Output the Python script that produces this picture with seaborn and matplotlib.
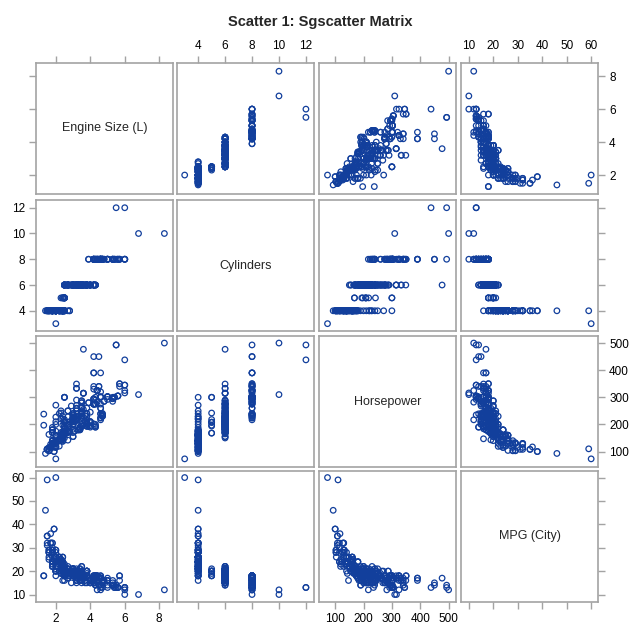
import numpy as np
import pandas as pd
import matplotlib
matplotlib.use("Agg")
import matplotlib.pyplot as plt
import seaborn as sns

sns.set_style("white")
plt.rcParams["font.family"] = ["Liberation Sans", "DejaVu Sans"]

# valores: (motor L, cavalos, mpg cidade) por nº de cilindros
cyl3 = [(2.0, 73, 60)]
rotary = [(1.3, 197, 18), (1.3, 238, 18)]  # sem cilindros
cyl4 = [
    (1.5, 110, 59), (1.4, 93, 46), (1.9, 100, 38), (1.9, 100, 38), (1.7, 115, 32),
    (1.7, 117, 36), (1.7, 127, 32), (1.5, 108, 35), (1.5, 108, 35), (1.5, 108, 32),
    (1.5, 108, 31), (1.8, 130, 32), (1.8, 130, 32), (1.8, 130, 29), (1.8, 130, 29),
    (1.6, 103, 29), (1.6, 103, 29), (1.6, 104, 26), (1.6, 103, 28), (1.6, 103, 28),
    (1.6, 115, 28), (1.6, 163, 25), (1.8, 124, 24), (1.8, 126, 28), (1.8, 126, 28),
    (2.5, 165, 23), (2.0, 138, 26), (2.0, 138, 26), (2.0, 132, 29), (2.0, 132, 29),
    (2.4, 230, 22), (2.0, 130, 26), (2.0, 130, 26), (2.0, 130, 26), (2.3, 170, 21),
    (2.0, 148, 26), (2.3, 160, 25), (2.2, 140, 26), (2.2, 140, 26), (2.2, 140, 24),
    (2.2, 140, 26), (2.2, 140, 26), (2.3, 155, 25), (2.0, 119, 22), (2.0, 120, 25),
    (2.0, 271, 18), (2.0, 227, 20), (2.5, 300, 18), (2.5, 165, 21), (2.5, 165, 21),
    (2.5, 165, 21), (2.5, 165, 21), (2.0, 160, 26), (2.4, 160, 26), (2.4, 160, 26),
    (2.4, 157, 24), (2.4, 157, 24), (2.4, 157, 24), (2.5, 175, 21), (2.4, 150, 22),
    (2.4, 220, 21), (2.4, 150, 22), (2.4, 150, 22), (2.2, 145, 24), (2.4, 138, 23),
    (2.4, 138, 23), (2.0, 115, 24), (2.0, 115, 24), (1.8, 180, 24), (1.8, 170, 22),
    (1.8, 170, 22), (1.8, 180, 24), (1.8, 140, 28), (1.8, 142, 23), (2.2, 240, 20),
    (2.0, 210, 20), (2.0, 175, 20), (2.3, 250, 19), (2.3, 220, 19), (1.8, 180, 24),
    (2.4, 160, 21), (2.4, 160, 21), (2.4, 160, 21), (2.4, 161, 22), (2.0, 130, 22),
    (2.0, 140, 20), (2.5, 165, 20), (2.4, 147, 16), (2.7, 142, 22), (2.8, 175, 18),
    (2.8, 175, 18), (2.3, 143, 24), (2.4, 143, 19), (2.2, 120, 23), (1.8, 189, 22),
    (2.3, 160, 24), (2.4, 160, 22), (2.2, 140, 24), (2.0, 138, 24), (2.0, 132, 28),
    (1.8, 115, 30), (2.0, 155, 24), (2.4, 174, 22), (2.0, 200, 21), (1.8, 138, 26),
]
cyl5 = [
    (2.4, 168, 20), (2.4, 168, 20), (2.5, 194, 20), (2.5, 208, 20), (2.5, 208, 20),
    (2.5, 218, 19), (2.5, 300, 18), (2.5, 300, 18), (2.4, 197, 21), (2.5, 208, 18),
    (2.3, 242, 20),
]
cyl6 = [
    (3.0, 240, 21), (3.0, 240, 21), (3.0, 210, 21), (3.3, 225, 20), (3.5, 245, 19),
    (3.5, 265, 20), (3.5, 245, 20), (3.0, 220, 19), (3.0, 220, 19), (3.8, 205, 20),
    (3.8, 205, 20), (3.8, 205, 20), (3.8, 240, 18), (3.8, 200, 19), (3.8, 260, 18),
    (3.4, 180, 21), (3.8, 200, 20), (3.5, 200, 22), (3.5, 200, 22), (3.4, 185, 19),
    (3.0, 155, 20), (3.0, 201, 18), (3.0, 155, 20), (2.7, 200, 21), (3.5, 250, 18),
    (2.7, 200, 21), (3.5, 232, 19), (2.7, 200, 21), (3.3, 225, 20), (3.0, 215, 18),
    (3.0, 220, 18), (3.8, 230, 18), (3.8, 215, 15), (2.5, 184, 20), (2.5, 184, 19),
    (3.0, 225, 20), (3.0, 225, 19), (2.5, 184, 19), (3.0, 225, 18), (2.5, 184, 16),
    (3.2, 333, 16), (3.2, 333, 16), (3.0, 220, 20), (3.0, 220, 20), (2.7, 250, 17),
    (2.7, 250, 17), (3.2, 215, 20), (3.2, 215, 19), (3.2, 221, 19), (2.6, 168, 20),
    (2.6, 168, 19), (3.2, 349, 16), (3.6, 477, 17), (3.6, 315, 18), (3.6, 315, 17),
    (3.6, 315, 17), (3.2, 258, 18), (2.7, 228, 20), (3.2, 270, 20), (3.2, 260, 19),
    (3.5, 225, 18), (3.5, 265, 17), (3.2, 290, 17), (3.5, 260, 18), (3.5, 280, 18),
    (3.5, 280, 16), (3.5, 287, 20), (3.5, 287, 20), (3.5, 240, 16), (3.3, 180, 17),
    (3.3, 230, 19), (3.5, 240, 18), (3.5, 240, 17), (3.4, 185, 19), (3.3, 180, 19),
    (3.8, 215, 18), (3.9, 193, 17), (4.0, 210, 15), (4.0, 210, 15), (4.0, 210, 15),
    (4.0, 207, 16), (4.2, 275, 16), (4.2, 275, 16), (4.2, 275, 15), (4.2, 275, 15),
    (4.3, 190, 14), (4.3, 190, 14), (4.0, 190, 16), (4.0, 195, 16), (3.7, 210, 17),
    (3.7, 210, 16), (3.5, 192, 16), (3.5, 194, 17), (2.7, 173, 20), (2.7, 173, 19),
    (2.7, 170, 19), (2.7, 170, 20), (3.3, 230, 18), (4.0, 245, 16), (3.4, 190, 17),
    (3.0, 182, 21), (2.5, 192, 18), (3.0, 227, 18), (3.0, 235, 18), (3.6, 255, 18),
    (2.8, 210, 18), (3.0, 232, 20), (3.7, 232, 15), (3.2, 215, 17), (3.0, 210, 21),
    (3.0, 200, 18), (3.0, 200, 18), (3.0, 200, 18), (3.0, 212, 19), (3.8, 193, 20),
    (3.8, 193, 20), (3.1, 175, 20), (3.4, 180, 21), (3.8, 240, 18), (2.7, 185, 18),
    (2.5, 165, 19), (3.5, 230, 15), (4.2, 275, 15), (2.5, 174, 18), (2.9, 208, 20),
    (2.9, 268, 15), (2.8, 190, 19), (3.2, 220, 15), (3.2, 250, 21), (3.5, 240, 19),
    (3.0, 210, 21), (3.3, 230, 18), (3.7, 210, 16), (4.2, 202, 15), (4.3, 195, 17),
    (4.3, 200, 15), (3.3, 180, 17), (3.4, 190, 16), (3.0, 170, 19), (2.5, 150, 22),
]
cyl8 = [
    (4.2, 450, 15), (4.2, 390, 17), (4.2, 390, 16), (4.2, 294, 18), (4.2, 294, 18),
    (4.2, 294, 18), (4.2, 340, 15), (4.2, 330, 17), (4.3, 290, 18), (4.3, 300, 18),
    (4.7, 235, 15), (4.7, 235, 13), (4.4, 325, 18), (4.4, 325, 16), (4.4, 325, 18),
    (4.5, 340, 14), (4.5, 450, 14), (4.6, 224, 17), (4.6, 224, 17), (4.6, 302, 17),
    (4.6, 260, 17), (4.6, 260, 17), (4.6, 302, 13), (4.6, 239, 14), (5.4, 300, 14),
    (5.4, 300, 13), (5.4, 300, 13), (4.6, 239, 17), (4.7, 230, 15), (4.7, 230, 15),
    (4.7, 230, 15), (4.7, 240, 16), (4.7, 240, 15), (4.7, 235, 16), (4.8, 285, 16),
    (4.8, 285, 16), (5.3, 295, 14), (5.3, 295, 14), (5.3, 295, 14), (6.0, 345, 13),
    (6.0, 345, 13), (6.0, 316, 10), (5.3, 300, 16), (5.7, 350, 18), (5.7, 350, 18),
    (5.7, 340, 16), (5.0, 302, 16), (4.3, 275, 18), (5.0, 302, 14), (5.0, 292, 13),
    (5.0, 302, 16), (5.0, 302, 16), (5.5, 493, 14), (4.6, 275, 18), (4.6, 300, 18),
    (4.6, 320, 17), (4.4, 282, 12), (4.6, 217, 12), (3.9, 280, 17), (3.9, 280, 17),
    (4.5, 340, 17), (5.6, 305, 13), (5.6, 305, 13), (5.6, 305, 13), (4.6, 390, 17),
    (4.4, 325, 18), (5.0, 302, 17), (4.3, 275, 18), (6.0, 325, 12), (5.3, 285, 15),
]
cyl10 = [(8.3, 500, 12), (6.8, 310, 10)]
cyl12 = [(5.5, 493, 13), (6.0, 438, 13)]

groups = [(3, cyl3), (4, cyl4), (5, cyl5), (6, cyl6), (8, cyl8), (10, cyl10), (12, cyl12), (np.nan, rotary)]
rows = []
for c, lst in groups:
    for e, h, m in lst:
        rows.append({"Engine Size (L)": e, "Cylinders": c, "Horsepower": h, "MPG (City)": m})
df = pd.DataFrame(rows)

vars_ = ["Engine Size (L)", "Cylinders", "Horsepower", "MPG (City)"]
lims = {"Engine Size (L)": (0.85, 8.8), "Cylinders": (2.43, 12.6),
        "Horsepower": (43, 526), "MPG (City)": (6.8, 62.8)}
ticks = {"Engine Size (L)": [2, 4, 6, 8], "Cylinders": [4, 6, 8, 10, 12],
         "Horsepower": [100, 200, 300, 400, 500], "MPG (City)": [10, 20, 30, 40, 50, 60]}

blue = "#123f9c"
gray = "#a3a3a3"
lefts = [36, 177, 319, 461]
tops = [63, 200, 336, 471]
w, h = 137, 131

fig = plt.figure(figsize=(6.4, 6.4), dpi=100)
fig.text(0.5, 1 - 22 / 640, "Scatter 1: Sgscatter Matrix", ha="center", va="center",
         fontsize=10.5, fontweight="bold")

for i, yv in enumerate(vars_):
    for j, xv in enumerate(vars_):
        ax = fig.add_axes([lefts[j] / 640, 1 - (tops[i] + h) / 640, w / 640, h / 640])
        if i == j:
            ax.text(0.5, 0.5, xv, ha="center", va="center", fontsize=9, transform=ax.transAxes)
        else:
            sns.scatterplot(data=df, x=xv, y=yv, ax=ax, marker="o", s=16,
                            facecolor="none", edgecolor=blue, linewidth=0.9, legend=False)
        ax.set_xlim(lims[xv]); ax.set_ylim(lims[yv])
        ax.set_xticks(ticks[xv]); ax.set_yticks(ticks[yv])
        ax.set_xlabel(""); ax.set_ylabel("")
        for sp in ax.spines.values():
            sp.set_color(gray); sp.set_linewidth(1.2)
        ax.tick_params(which="both", direction="out", length=5, width=1, color=gray,
                       labelsize=8.5, labelcolor="black", pad=3,
                       bottom=(i == 3), top=(i == 0), left=(j == 0), right=(j == 3),
                       labelbottom=(i == 3 and j in (0, 2)), labeltop=(i == 0 and j in (1, 3)),
                       labelleft=(j == 0 and i in (1, 3)), labelright=(j == 3 and i in (0, 2)))

fig.savefig("out.png", dpi=100, facecolor="white")
